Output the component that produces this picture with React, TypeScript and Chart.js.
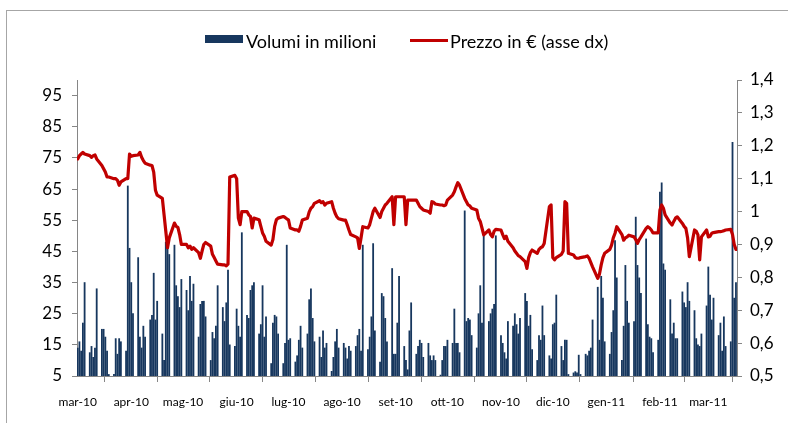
import React, { useEffect, useRef } from 'react';
import { Chart, registerables } from 'chart.js';

Chart.register(...registerables);

// ---- Categories / tick labels ----
const monthLabels = ['mar-10', 'apr-10', 'mag-10', 'giu-10', 'lug-10', 'ago-10', 'set-10', 'ott-10', 'nov-10', 'dic-10', 'gen-11', 'feb-11', 'mar-11'];
const leftTicks = [5, 15, 25, 35, 45, 55, 65, 75, 85, 95];
const rightTicks = [0.5, 0.6, 0.7, 0.8, 0.9, 1.0, 1.1, 1.2, 1.3, 1.4];

// ---- Volumes in millions (one value per trading day, by month) ----
const volMar10 = [14, 16, 13, 22, 35, 12.5, 14.5, 11, 14, 33, 20, 20, 17.5, 13, 5.5, 5.5, 17, 12, 17, 16, 13, 66, 46];
const volApr10 = [35, 25, 43, 17.5, 14, 21, 17.5, 23, 24.5, 38, 23, 29, 18.5, 10, 48, 47, 44, 47, 34, 30.5, 27, 36];
const volMay10 = [32.5, 26, 37, 29, 34.5, 17.5, 28, 29, 29, 24, 10, 19, 17, 21, 34, 27, 22.5, 28.5, 39, 15, 14.5];
const volJun10 = [26.5, 21, 17.5, 51, 24.5, 23.5, 32.5, 34, 35, 18.5, 21.5, 34, 17.5, 24, 9, 22, 24.5, 24, 18.5, 9, 15.5, 47];
const volJul10 = [16.5, 17, 9.5, 11.5, 16.5, 21, 14, 18.5, 29.5, 33, 23.5, 16, 17.5, 11, 19.5, 14, 15.5, 6.5, 11, 16, 20, 14];
const volAug10 = [15.5, 14, 10.5, 14.5, 13, 14.5, 18, 20, 13, 47, 13.5, 17.5, 24, 47.5, 19.5, 9.5, 31.5, 30.5, 23.5, 16, 39.5, 12];
const volSep10 = [12, 22, 37, 14.5, 10, 7, 19.5, 28.5, 12, 14.5, 16.5, 15.5, 11, 15.5, 11.5, 10, 11.5, 10, 5.3, 10, 14.5, 14.5];
const volOct10 = [16.5, 15.5, 26.5, 15.5, 15.5, 12.5, 58, 22.5, 23.5, 23, 18, 14, 25, 34, 22, 50, 22.5, 25, 26.5, 28, 50];
const volNov10 = [18, 15.5, 12.5, 10.5, 22.5, 21, 25, 21.5, 18.5, 23.5, 31.5, 29, 21, 24.5, 13.5, 10, 18, 16.5, 27.5, 18, 11.5, 10.5];
const volDec10 = [21.5, 22, 31, 14.5, 10, 16.5, 16.5, 5.5, 6, 6.4, 6, 11.7, 5.5, 12, 11.5, 13, 14, 23, 33.5, 16.5, 37, 30, 16];
const volJan11 = [12, 19, 26, 48.5, 36.5, 10, 21, 40.5, 29, 22, 22.5, 56, 40.5, 36.5, 31.5, 49, 21.5, 17.5, 17, 12.5, 16.5];
const volFeb11 = [64, 67, 41, 39, 29.5, 18.5, 22, 17, 17, 32, 28.5, 27, 35, 29, 26, 17, 15, 14.5, 18.5, 27.5];
const volMar11 = [40, 31, 23, 30, 18, 22, 13, 24, 14.5, 16, 80, 30, 35];

// ---- Price in euro (right axis), one value per trading day, by month ----
const priceMar10 = [1.16, 1.17, 1.175, 1.18, 1.175, 1.17, 1.165, 1.17, 1.172, 1.16, 1.14, 1.13, 1.12, 1.105, 1.105, 1.1, 1.1, 1.095, 1.08, 1.09, 1.1, 1.1, 1.175];
const priceApr10 = [1.168, 1.17, 1.172, 1.18, 1.165, 1.155, 1.147, 1.141, 1.14, 1.12, 1.065, 1.05, 1.04, 0.99, 0.94, 0.89, 0.92, 0.965, 0.955, 0.952, 0.93, 0.9];
const priceMay10 = [0.9, 0.89, 0.895, 0.885, 0.89, 0.875, 0.858, 0.88, 0.9, 0.906, 0.895, 0.87, 0.86, 0.85, 0.84, 0.838, 0.838, 0.835, 0.84, 1.105, 1.11];
const priceJun10 = [1.1, 0.98, 0.96, 1.0, 1.0, 0.99, 0.985, 0.95, 0.98, 0.975, 0.955, 0.935, 0.925, 0.91, 0.898, 0.915, 0.955, 0.975, 0.98, 0.985, 0.982, 0.978];
const priceJul10 = [0.975, 0.95, 0.944, 0.944, 0.94, 0.955, 0.974, 0.98, 0.999, 1.01, 1.015, 1.025, 1.033, 1.027, 1.03, 1.02, 1.025, 1.03, 1.01, 0.995, 0.984, 0.978];
const priceAug10 = [0.974, 0.974, 0.96, 0.944, 0.93, 0.923, 0.92, 0.888, 0.92, 0.954, 0.95, 0.96, 0.98, 1.0, 1.01, 0.982, 1.0, 1.01, 1.02, 1.025, 1.045, 0.96];
const priceSep10 = [1.045, 1.045, 1.045, 1.045, 0.96, 1.035, 1.035, 1.035, 1.035, 1.025, 1.015, 1.01, 1.005, 1.0, 0.995, 1.03, 1.028, 1.023, 1.02, 1.02, 1.018, 1.02];
const priceOct10 = [1.035, 1.05, 1.06, 1.075, 1.088, 1.08, 1.04, 1.03, 1.02, 1.017, 1.01, 1.005, 0.98, 0.97, 0.95, 0.929, 0.944, 0.93, 0.923, 0.94, 0.946];
const priceNov10 = [0.944, 0.93, 0.918, 0.925, 0.91, 0.89, 0.88, 0.873, 0.866, 0.863, 0.848, 0.827, 0.86, 0.875, 0.883, 0.873, 0.885, 0.89, 0.893, 0.903, 1.015, 1.02];
const priceDec10 = [0.86, 0.853, 0.86, 0.87, 0.88, 1.03, 1.025, 0.873, 0.868, 0.86, 0.858, 0.858, 0.86, 0.863, 0.865, 0.858, 0.845, 0.832, 0.797, 0.81, 0.838, 0.86, 0.873];
const priceJan11 = [0.885, 0.898, 0.92, 0.934, 0.954, 0.93, 0.913, 0.92, 0.923, 0.928, 0.923, 0.915, 0.903, 0.915, 0.923, 0.949, 0.954, 0.95, 0.944, 0.935, 0.935];
const priceFeb11 = [1.005, 1.02, 1.01, 0.99, 0.965, 0.959, 0.97, 0.98, 0.984, 0.964, 0.955, 0.949, 0.92, 0.863, 0.944, 0.94, 0.929, 0.853, 0.923, 0.944];
const priceMar11 = [0.923, 0.925, 0.934, 0.936, 0.939, 0.939, 0.94, 0.942, 0.944, 0.946, 0.93, 0.9, 0.885];

const volumes = [
  ...volMar10, ...volApr10, ...volMay10, ...volJun10, ...volJul10, ...volAug10, ...volSep10,
  ...volOct10, ...volNov10, ...volDec10, ...volJan11, ...volFeb11, ...volMar11,
];
const prices = [
  ...priceMar10, ...priceApr10, ...priceMay10, ...priceJun10, ...priceJul10, ...priceAug10, ...priceSep10,
  ...priceOct10, ...priceNov10, ...priceDec10, ...priceJan11, ...priceFeb11, ...priceMar11,
];

// ---- Calendar: trading days (weekdays) from 1 Mar 2010 to 17 Mar 2011 ----
const DAY_MS = 86400000;
const START = Date.UTC(2010, 2, 1);
const LAST_DAY = Math.round((Date.UTC(2011, 2, 17) - START) / DAY_MS);
const tradingDays: number[] = [];
for (let d = 0; d <= LAST_DAY; d++) {
  const wd = new Date(START + d * DAY_MS).getUTCDay();
  if (wd >= 1 && wd <= 5) tradingDays.push(d);
}
const monthStarts = monthLabels.map((_, i) => Math.round((Date.UTC(2010, 2 + i, 1) - START) / DAY_MS));

const n = Math.min(tradingDays.length, volumes.length, prices.length);
const volData = tradingDays.slice(0, n).map((d, i) => ({ x: d, y: volumes[i] }));
const priceData = tradingDays.slice(0, n).map((d, i) => ({ x: d, y: prices[i] }));

const NAVY = '#17375E';
const RED = '#C00000';
const AXIS = '#868686';
const FONT = 'Lato, "Open Sans", sans-serif';

export default function App() {
  const ref = useRef<HTMLCanvasElement | null>(null);

  useEffect(() => {
    if (!ref.current) return;
    const chart = new Chart(ref.current, {
      type: 'bar',
      data: {
        datasets: [
          {
            type: 'line',
            label: 'Prezzo in € (asse dx)',
            data: priceData,
            xAxisID: 'x',
            yAxisID: 'yR',
            borderColor: RED,
            backgroundColor: RED,
            borderWidth: 3.2,
            pointRadius: 0,
            tension: 0,
            borderJoinStyle: 'round',
            borderCapStyle: 'round',
            order: 1,
          } as any,
          {
            type: 'bar',
            label: 'Volumi in milioni',
            data: volData,
            xAxisID: 'x',
            yAxisID: 'yL',
            backgroundColor: NAVY,
            borderWidth: 0,
            barThickness: 1.15,
            order: 2,
          } as any,
        ],
      },
      options: {
        responsive: false,
        animation: false,
        events: [],
        layout: { padding: { top: 80, left: 0, right: 0, bottom: 0 } },
        plugins: {
          legend: { display: false },
          tooltip: { enabled: false },
        },
        scales: {
          x: {
            type: 'linear',
            min: -0.4,
            max: LAST_DAY + 0.6,
            offset: false,
            afterBuildTicks: (s: any) => {
              s.ticks = monthStarts.map((v) => ({ value: v }));
            },
            afterFit: (s: any) => {
              s.height = 47;
            },
            ticks: {
              autoSkip: false,
              maxRotation: 0,
              minRotation: 0,
              padding: 13,
              color: '#000',
              font: { family: FONT, size: 12 },
              callback: (v: any) => {
                const i = monthStarts.indexOf(Number(v));
                return i >= 0 ? monthLabels[i] : '';
              },
            },
            grid: { drawOnChartArea: false, drawTicks: true, tickLength: 6, color: AXIS },
            border: { display: true, color: AXIS, width: 1 },
          },
          yL: {
            type: 'linear',
            position: 'left',
            min: 5,
            max: 100,
            afterBuildTicks: (s: any) => {
              s.ticks = leftTicks.map((v) => ({ value: v }));
            },
            afterFit: (s: any) => {
              s.width = 77;
            },
            ticks: {
              padding: 10,
              color: '#000',
              font: { family: FONT, size: 17 },
              callback: (v: any) => String(v),
            },
            grid: { drawOnChartArea: false, drawTicks: true, tickLength: 5, color: AXIS },
            border: { display: true, color: AXIS, width: 1 },
          },
          yR: {
            type: 'linear',
            position: 'right',
            min: 0.5,
            max: 1.4,
            afterBuildTicks: (s: any) => {
              s.ticks = rightTicks.map((v) => ({ value: v }));
            },
            afterFit: (s: any) => {
              s.width = 51;
            },
            ticks: {
              padding: 8,
              color: '#000',
              font: { family: FONT, size: 17 },
              callback: (v: any) => String(Number(Number(v).toFixed(1))).replace('.', ','),
            },
            grid: { drawOnChartArea: false, drawTicks: true, tickLength: 5, color: AXIS },
            border: { display: true, color: AXIS, width: 1 },
          },
        },
      } as any,
    });
    return () => chart.destroy();
  }, []);

  const legendText: React.CSSProperties = {
    position: 'absolute',
    top: 32,
    fontFamily: FONT,
    fontSize: 18,
    lineHeight: '18px',
    color: '#000',
    whiteSpace: 'nowrap',
  };

  return (
    <div style={{ position: 'absolute', left: 0, top: 0, width: 788, height: 423, background: '#fff', overflow: 'hidden' }}>
      <div
        style={{
          position: 'absolute',
          left: 6,
          top: 10,
          width: 790,
          height: 420,
          border: '1px solid #A6A6A6',
          boxSizing: 'border-box',
        }}
      />
      <canvas ref={ref} width={788} height={423} style={{ position: 'absolute', left: 0, top: 0, width: 788, height: 423 }} />
      <div style={{ position: 'absolute', left: 205, top: 35, width: 38, height: 8, background: NAVY }} />
      <span style={{ ...legendText, left: 246 }}>Volumi in milioni</span>
      <div style={{ position: 'absolute', left: 410, top: 39, width: 38, height: 3, background: RED }} />
      <span style={{ ...legendText, left: 450 }}>Prezzo in € (asse dx)</span>
    </div>
  );
}
